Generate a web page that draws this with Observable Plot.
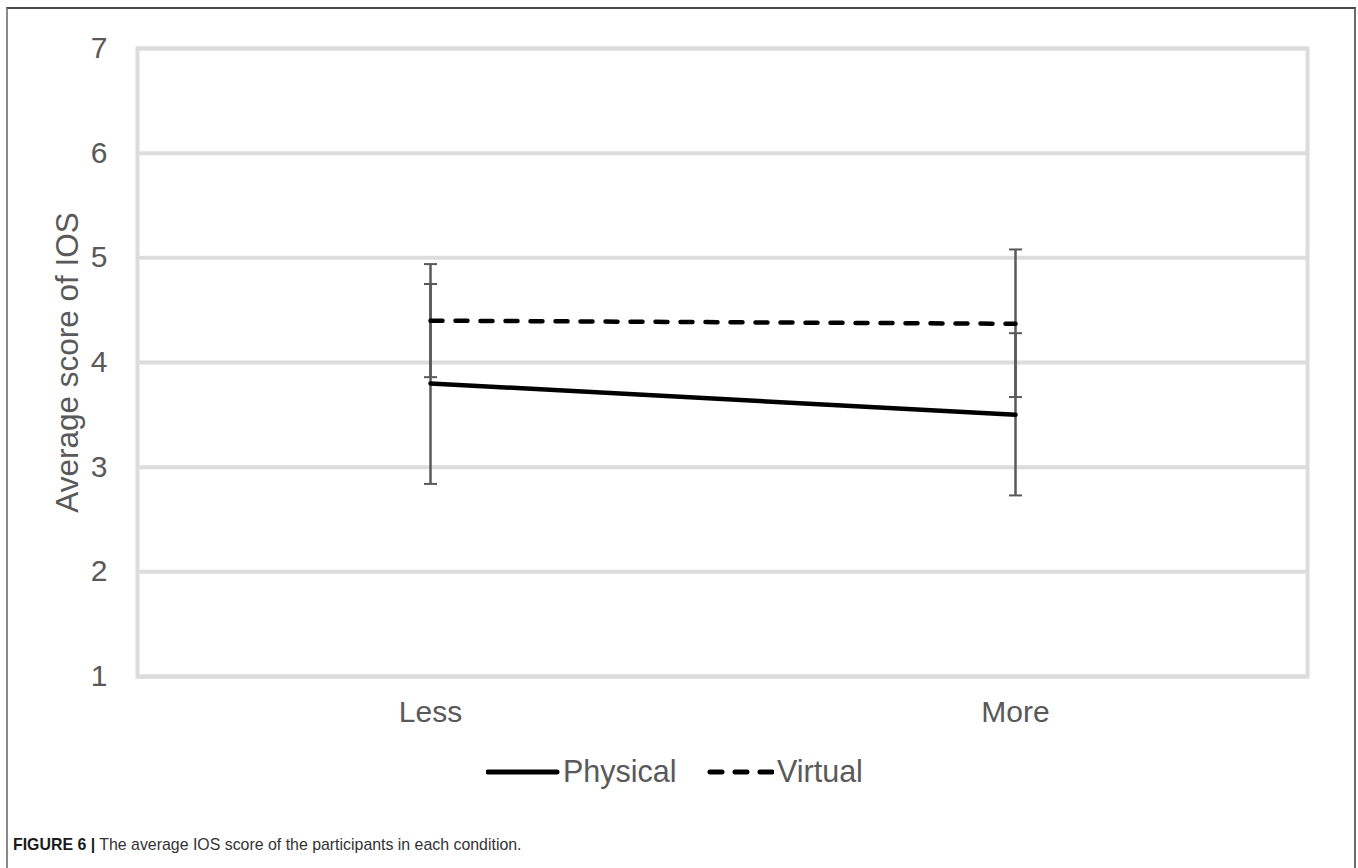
<!DOCTYPE html>
<html>
<head>
<meta charset="utf-8">
<script src="https://cdn.jsdelivr.net/npm/d3@7"></script>
<script src="https://cdn.jsdelivr.net/npm/@observablehq/plot@0.6"></script>
<style>
  html, body { margin: 0; padding: 0; background: #fff; overflow: hidden; }
  #wrap { position: relative; width: 1358px; height: 868px; font-family: "Liberation Sans", Arial, sans-serif; }
  #box { position: absolute; left: 6px; top: 7px; width: 1346px; height: 900px;
         border-top: 2px solid #4a4a4a; border-left: 2px solid #8a8a8a; border-right: 2px solid #6a6a6a; }
  #chart { position: absolute; left: 0; top: 0; }
  .leg { position: absolute; font-size: 30.5px; color: #595959; line-height: 1; }
  .sw { position: absolute; }
  #caption { position: absolute; left: 13px; top: 836px; font-size: 15.9px; color: #333; white-space: nowrap; }
  #caption b { color: #1a1a1a; }
</style>
</head>
<body>
<div id="wrap">
  <div id="box"></div>
  <div id="chart"></div>
  <svg class="sw" style="left:486px; top:762px" width="74" height="20">
    <line x1="2" y1="10" x2="71" y2="10" stroke="#000" stroke-width="5" stroke-linecap="round"></line>
  </svg>
  <div class="leg" style="left:563px; top:756px">Physical</div>
  <svg class="sw" style="left:706px; top:762px" width="68" height="20">
    <line x1="4" y1="10" x2="66" y2="10" stroke="#000" stroke-width="5" stroke-linecap="round" stroke-dasharray="12,13"></line>
  </svg>
  <div class="leg" style="left:777px; top:756px">Virtual</div>
  <div id="caption"><b>FIGURE 6 |</b> The average IOS score of the participants in each condition.</div>
</div>
<script>
const conditions = ["Less", "More"];
const physicalMean = [3.80, 3.50];
const physicalLow = [2.84, 2.73];
const physicalHigh = [4.75, 4.28];
const virtualMean = [4.40, 4.37];
const virtualLow = [3.86, 3.67];
const virtualHigh = [4.94, 5.08];
const yTicks = [1, 2, 3, 4, 5, 6, 7];
const yTitle = "Average score of IOS";

const physical = conditions.map((c, i) => ({cond: c, mean: physicalMean[i], lo: physicalLow[i], hi: physicalHigh[i]}));
const virtual = conditions.map((c, i) => ({cond: c, mean: virtualMean[i], lo: virtualLow[i], hi: virtualHigh[i]}));
const bars = [...physical, ...virtual];

const gridColor = "#dcdcdc";
const barColor = "#595959";
const textColor = "#595959";

// horizontal cap symbol for error bars
const capSymbol = {
  draw(context, size) {
    const r = Math.sqrt(size / Math.PI);
    context.moveTo(-r, 0);
    context.lineTo(r, 0);
  }
};

const chart = Plot.plot({
  width: 1358,
  height: 740,
  marginLeft: 137,
  marginRight: 51,
  marginTop: 48,
  marginBottom: 64,
  style: {fontFamily: "'Liberation Sans', Arial, sans-serif", background: "transparent"},
  x: {type: "point", domain: conditions, padding: 0.5},
  y: {domain: [1, 7]},
  marks: [
    Plot.ruleY(yTicks, {stroke: gridColor, strokeWidth: 4}),
    Plot.frame({stroke: gridColor, strokeWidth: 4}),
    Plot.axisY({ticks: yTicks, tickFormat: "d", tickSize: 0, tickPadding: 30, fontSize: 30, fill: textColor, label: null}),
    Plot.axisX({tickSize: 0, tickPadding: 24, fontSize: 30, fill: textColor, label: null}),
    Plot.text([yTitle], {text: d => d, frameAnchor: "left", textAnchor: "middle", rotate: -90, dx: -70, fontSize: 31.5, fill: textColor}),
    Plot.ruleX(bars, {x: "cond", y1: "lo", y2: "hi", stroke: barColor, strokeWidth: 2.5}),
    Plot.dot(bars, {x: "cond", y: "hi", symbol: capSymbol, r: 6.5, fill: "none", stroke: barColor, strokeWidth: 2}),
    Plot.dot(bars, {x: "cond", y: "lo", symbol: capSymbol, r: 6.5, fill: "none", stroke: barColor, strokeWidth: 2}),
    Plot.line(physical, {x: "cond", y: "mean", stroke: "#000", strokeWidth: 4.5}),
    Plot.line(virtual, {x: "cond", y: "mean", stroke: "#000", strokeWidth: 4.5, strokeDasharray: "12,13", strokeLinecap: "round"})
  ]
});
document.getElementById("chart").appendChild(chart);
</script>
</body>
</html>
